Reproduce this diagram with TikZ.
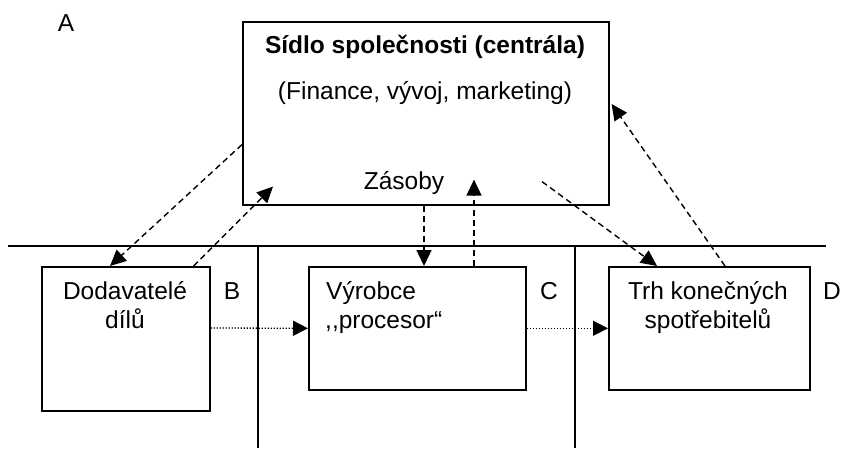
\documentclass[tikz,border=0pt]{standalone}
\usepackage{fontspec}
\setmainfont{Liberation Sans}
\usetikzlibrary{arrows.meta,calc}
\begin{document}
\begin{tikzpicture}[x=1pt,y=-1pt,
  box/.style={draw,line width=1.6pt,minimum width=#1,anchor=north west,inner sep=0pt},
  txt/.style={inner sep=0pt,font=\fontsize{24.5}{29}\selectfont},
  dasharrow/.style={line width=1.4pt,dash pattern=on 6pt off 4pt,-{Triangle[length=16pt,width=15pt]}},
  dotarrow/.style={line width=1.3pt,dash pattern=on 1.3pt off 1.7pt,-{Triangle[length=15pt,width=15pt]}},
  divider/.style={line width=1.6pt}]
\useasboundingbox (0,0) rectangle (841,448);
% boxes
\node[box=366pt,minimum height=183pt] (hq) at (242,21) {};
\node[box=168pt,minimum height=144pt] (B) at (41,266) {};
\node[box=217pt,minimum height=123pt] (C) at (308,266) {};
\node[box=201pt,minimum height=123pt] (D) at (608,266) {};
% dividers
\draw[divider] (8,246) -- (826,246);
\draw[divider] (258,246) -- (258,448);
\draw[divider] (575,246) -- (575,448);
% texts
\node[txt,anchor=base] (t1) at (425,53) {\bfseries Sídlo společnosti (centrála)};
\node[txt,anchor=base] (t2) at (425,99) {(Finance, vývoj, marketing)};
\node[txt,anchor=base] (t3) at (404,189) {Zásoby};
\node[txt,anchor=base] (b1) at (125,299) {Dodavatelé};
\node[txt,anchor=base] (b2) at (125,328) {dílů};
\node[txt,anchor=base west] (c1) at (326,299) {Výrobce};
\node[txt,anchor=base west] (c2) at (325,328) {,\kern0pt,procesor“};
\node[txt,anchor=base] (d1) at (708,299) {Trh konečných};
\node[txt,anchor=base] (d2) at (708,328) {spotřebitelů};
\node[txt,anchor=base] (lA) at (66,31) {A};
\node[txt,anchor=base] (lB) at (232,299) {B};
\node[txt,anchor=base] (lC) at (549,299) {C};
\node[txt,anchor=base] (lD) at (832,299) {D};
% free ends inside headquarters
\coordinate (hqa) at ($(hq.south west)+(31,-19)$);
\coordinate (hqb) at ($(hq.south west)+(232,-26)$);
\coordinate (hqc) at ($(hq.south west)+(300,-24)$);
% connectors
\draw[dasharrow] ($(hq.south west)+(0,-61)$) -- ($(B.north west)+(69,0)$);
\draw[dasharrow] ($(B.north east)+(-17,0)$) -- (hqa);
\draw[dasharrow] ($(hq.south west)+(182,0)$) -- ($(C.north west)+(116,0)$);
\draw[dasharrow] ($(C.north west)+(166,0)$) -- (hqb);
\draw[dasharrow] (hqc) -- ($(D.north west)+(49,0)$);
\draw[dasharrow] ($(D.north west)+(117,0)$) -- ($(hq.north east)+(2,83)$);
\draw[dotarrow] ($(B.north east)+(0,62)$) -- (C.west);
\draw[dotarrow] (C.east) -- (D.west);
\end{tikzpicture}
\end{document}
